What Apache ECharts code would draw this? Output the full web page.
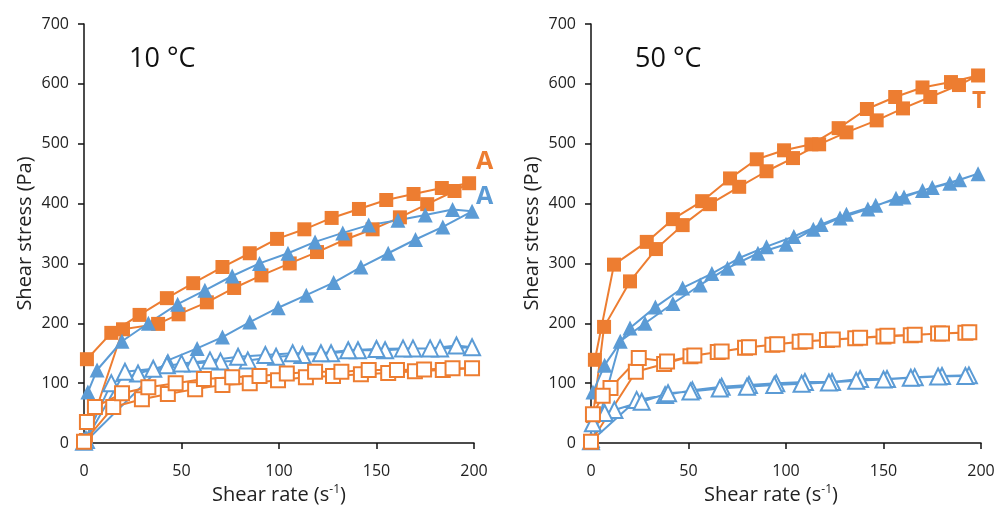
<!DOCTYPE html>
<html><head><meta charset="utf-8">
<script src="https://cdn.jsdelivr.net/npm/echarts@6/dist/echarts.min.js"></script>
<style>html,body{margin:0;padding:0;background:#fff}#c{width:995px;height:506px}</style>
</head><body><div id="c"></div>
<script>
// ---- tick labels ----
const xTicks = [0, 50, 100, 150, 200];
const yTicks = [0, 100, 200, 300, 400, 500, 600, 700];
const panelTitles = ['10 °C', '50 °C'];
const xName = 'Shear rate (s', xSup = '-1', yName = 'Shear stress (Pa)';

// ---- 10 °C panel ----
const L_fillSq = [[1.5,140],[14,184],[28.5,214],[42.5,242],[56,267],[71,294],[85,317],[99,341],[113,357],[127,376],[141,391],[155,406],[169,416],[183.5,426],[197.5,434],
  [190,421],[176,399],[162,377],[148,357],[134,340],[119.5,319],[105.5,300],[91,280],[77,259],[63,235],[48.5,215],[38,199],[20,190],[1,5]];
const L_fillTri = [[2,85],[6.7,122],[19.5,170],[33,200],[48,232],[62,255],[76,279],[90,300],[104.6,317],[118.5,336],[132.7,351],[146,364],[161,372],[175,381],[189,390],[199,387],
  [184,361],[170,340],[156,317],[142,294],[128,268],[114,247],[99.6,226],[85,202],[71,177],[58,158],[43,138],[1,3]];
const L_openTri = [[0,2],[14,100],[27.7,116],[42.5,130],[56,133],[70,136],[84,138],[98.5,144],[112,147],[126.7,150],[140.5,155],[154.4,155],[168.7,158],[182.6,158],[199,160],
  [191,163],[177.5,158],[163.6,158],[150,157],[135.5,155],[121.5,150],[107,150],[93,147],[79,144],[64.6,138],[50,133],[35.5,124],[21,119],[1,5]];
const L_openSq = [[0,2],[15,60],[29.7,73],[43,82],[57,90],[71,97],[85,100],[99.5,105],[113.8,110],[127.7,112],[142,115],[156,117],[169.7,120],[184,122],[199,125],
  [189,125],[174.4,123],[160.5,122],[146,122],[132,119],[118.5,119],[104,116],[90,112],[76,110],[61.5,107],[47,100],[33,93],[19.5,83],[5.6,60],[1.5,35]];

// ---- 50 °C panel ----
const R_fillSq = [[2,139],[11.8,298],[28.6,336],[42,374],[57,404],[71.3,442],[85,474],[99,489],[113,499],[127,526],[141.5,558],[156,578],[170,594],[184.6,603],[198.5,614],
  [188.7,598],[174,578],[160,559],[146.5,539],[131,519],[117,499],[103.6,476],[90,454],[76,428],[61,399],[47,364],[33.3,324],[20,270],[6.7,194],[1,45]];
const R_fillTri = [[1,85],[7,130],[20,192],[33,227],[47,259],[62,283],[76,309],[90,328],[104,345],[118,365],[131,382],[146,397],[160.5,411],[175,427],[189,440],[198.5,450],
  [184,434],[170,422],[156.4,409],[142,391],[127.7,376],[114,357],[100,332],[85.6,317],[70,292],[56,264],[42,233],[27.7,200],[15,170],[1,4]];
const R_openTri = [[0,3],[23.4,72],[38,80],[52,88],[67,94],[81,97],[95,100],[109.7,102],[123.6,102],[138,107],[151.8,107],[166,110],[180,112],[193.8,113],
  [192,112],[178,111],[164,109],[150,106],[136,104],[122,101],[108,99],[94,97],[80,94],[66,91],[51,86],[39.5,83],[26,69],[12,55],[7,50],[1,33]];
const R_openSq = [[0,2],[23,119],[37.5,132],[51,145],[65,152],[79,159],[93,164],[107,169],[121,172],[135.5,175],[150,178],[164,180],[178,183],[192,184],
  [194,185],[180,183],[166,181],[152,179],[138,176],[124,173],[110,170],[95.5,165],[81,160],[67,153],[53,146],[39,136],[24.5,142],[10,92],[6,79],[1,48]];

const ORANGE = '#ED7D31', BLUE = '#5B9BD5';
const FONT = '"Open Sans", "Noto Sans", sans-serif';

function mkSeries(data, idx, color, symbol, open, size) {
  return {
    type: 'line', xAxisIndex: idx, yAxisIndex: idx, data: data,
    symbol: symbol, symbolSize: size, showAllSymbol: true, clip: false,
    lineStyle: { color: color, width: 2 },
    itemStyle: open ? { color: '#fff', borderColor: color, borderWidth: 2 } : { color: color, borderWidth: 0 },
    emphasis: { disabled: true }, animation: false
  };
}

const grids = [
  { left: 84, top: 24, width: 390, height: 419, outerBoundsMode: 'none', containLabel: false },
  { left: 591, top: 24, width: 390, height: 419, outerBoundsMode: 'none', containLabel: false }
];
function xAx(i, shift) {
  return {
    gridIndex: i, type: 'value', min: xTicks[0], max: xTicks[xTicks.length - 1], interval: xTicks[1] - xTicks[0],
    axisLine: { show: true, lineStyle: { color: '#111', width: 1.5 } },
    axisTick: { show: true, inside: false, length: 6, lineStyle: { color: '#111', width: 1.5 } },
    axisLabel: { color: '#222', fontSize: 16, fontFamily: FONT, margin: 20 },
    splitLine: { show: false },
    name: '{a|' + xName + '}{s|' + xSup + '}{a|)}', nameLocation: 'middle', nameGap: 40,
    nameTextStyle: { fontFamily: FONT, color: '#222', padding: [0, shift, 0, 0], rich: {
      a: { fontSize: 20, fontFamily: FONT, color: '#222' },
      s: { fontSize: 12, fontFamily: FONT, color: '#222', verticalAlign: 'top', padding: [0, 0, 10, 0] } } }
  };
}
function yAx(i) {
  return {
    gridIndex: i, type: 'value', min: yTicks[0], max: yTicks[yTicks.length - 1], interval: yTicks[1] - yTicks[0],
    axisLine: { show: true, lineStyle: { color: '#111', width: 1.5 } },
    axisTick: { show: true, inside: false, length: 6, lineStyle: { color: '#111', width: 1.5 } },
    axisLabel: { color: '#222', fontSize: 16, fontFamily: FONT, margin: 15 },
    splitLine: { show: false },
    name: yName, nameLocation: 'middle', nameGap: 49,
    nameTextStyle: { fontFamily: FONT, color: '#222', fontSize: 20 }
  };
}

const chart = echarts.init(document.getElementById('c'), null, { renderer: 'canvas' });
chart.setOption({
  animation: false,
  backgroundColor: '#fff',
  grid: grids,
  xAxis: [xAx(0, 0), xAx(1, 30)],
  yAxis: [yAx(0), yAx(1)],
  series: [
    mkSeries(L_fillSq, 0, ORANGE, 'rect', false, 14),
    mkSeries(L_fillTri, 0, BLUE, 'triangle', false, 15),
    mkSeries(L_openTri, 0, BLUE, 'triangle', true, 16),
    mkSeries(L_openSq, 0, ORANGE, 'rect', true, 14),
    mkSeries(R_fillSq, 1, ORANGE, 'rect', false, 14),
    mkSeries(R_fillTri, 1, BLUE, 'triangle', false, 15),
    mkSeries(R_openTri, 1, BLUE, 'triangle', true, 16),
    mkSeries(R_openSq, 1, ORANGE, 'rect', true, 14)
  ],
  graphic: [
    { type: 'text', left: 129, top: 46, style: { text: panelTitles[0], fontSize: 27, fontFamily: FONT, fill: '#111' } },
    { type: 'text', left: 635, top: 46, style: { text: panelTitles[1], fontSize: 27, fontFamily: FONT, fill: '#111' } },
    { type: 'text', left: 476, top: 149, style: { text: 'A', fontSize: 25, fontWeight: 'bold', fontFamily: FONT, fill: ORANGE } },
    { type: 'text', left: 476, top: 184, style: { text: 'A', fontSize: 25, fontWeight: 'bold', fontFamily: FONT, fill: BLUE } },
    { type: 'text', left: 972, top: 89, style: { text: 'T', fontSize: 24, fontWeight: 'bold', fontFamily: FONT, fill: ORANGE } }
  ]
});
</script></body></html>
